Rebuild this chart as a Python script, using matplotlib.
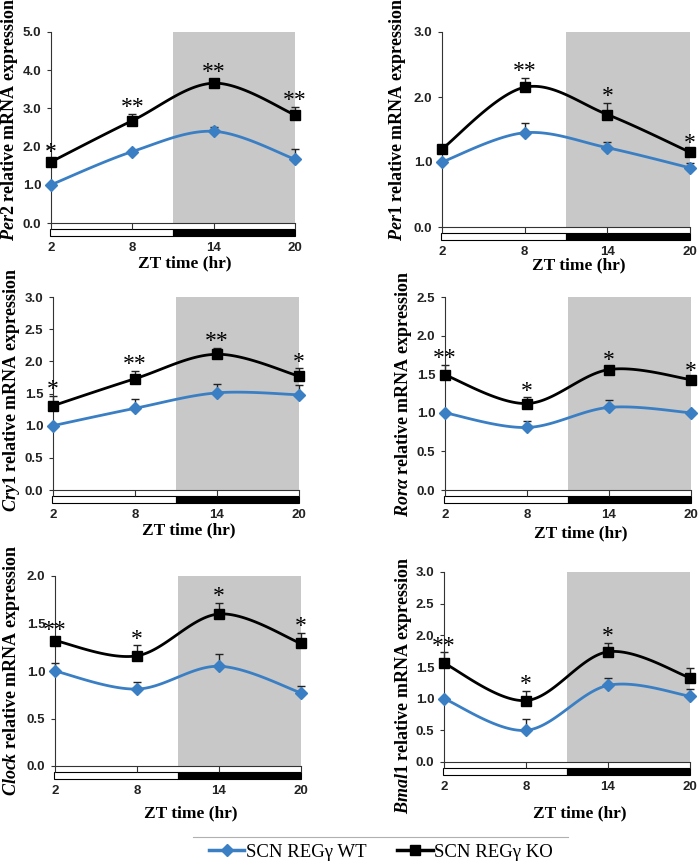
import numpy as np
import matplotlib
matplotlib.use('Agg')
import matplotlib.pyplot as plt
from matplotlib.patches import Rectangle
from matplotlib.lines import Line2D
import matplotlib.transforms as mtransforms

plt.rcParams['mathtext.fontset'] = 'custom'
plt.rcParams['mathtext.it'] = 'Liberation Serif:italic:bold'
plt.rcParams['mathtext.rm'] = 'Liberation Serif:bold'

zt = [2, 8, 14, 20]
zt_labels = ['2', '8', '14', '20']

genes = ['Per2', 'Per1', 'Cry1', 'Rorα', 'Clock', 'Bmal1']
ymax = [5.0, 3.0, 3.0, 2.5, 2.0, 3.0]
ystep = [1.0, 1.0, 0.5, 0.5, 0.5, 0.5]

per2_wt = [1.00, 1.87, 2.40, 1.67]
per2_wt_err = [0.00, 0.05, 0.12, 0.28]
per2_ko = [1.60, 2.68, 3.66, 2.83]
per2_ko_err = [0.08, 0.17, 0.12, 0.20]
per2_stars = ['*', '**', '**', '**']

per1_wt = [1.00, 1.45, 1.22, 0.91]
per1_wt_err = [0.00, 0.15, 0.09, 0.07]
per1_ko = [1.20, 2.15, 1.73, 1.15]
per1_ko_err = [0.02, 0.15, 0.18, 0.03]
per1_stars = ['', '**', '*', '*']

cry1_wt = [1.00, 1.27, 1.51, 1.48]
cry1_wt_err = [0.00, 0.15, 0.14, 0.15]
cry1_ko = [1.31, 1.73, 2.11, 1.77]
cry1_ko_err = [0.15, 0.12, 0.10, 0.12]
cry1_stars = ['*', '**', '**', '*']

rora_wt = [1.00, 0.81, 1.07, 1.00]
rora_wt_err = [0.00, 0.08, 0.09, 0.02]
rora_ko = [1.49, 1.12, 1.56, 1.43]
rora_ko_err = [0.13, 0.08, 0.04, 0.02]
rora_stars = ['**', '*', '*', '*']

clock_wt = [1.00, 0.81, 1.05, 0.77]
clock_wt_err = [0.08, 0.07, 0.13, 0.07]
clock_ko = [1.32, 1.16, 1.60, 1.29]
clock_ko_err = [0.04, 0.11, 0.12, 0.11]
clock_stars = ['**', '*', '*', '*']

bmal1_wt = [1.00, 0.50, 1.21, 1.04]
bmal1_wt_err = [0.00, 0.18, 0.11, 0.12]
bmal1_ko = [1.56, 0.97, 1.74, 1.33]
bmal1_ko_err = [0.17, 0.15, 0.14, 0.16]
bmal1_stars = ['**', '*', '*', '']

wt_all = [per2_wt, per1_wt, cry1_wt, rora_wt, clock_wt, bmal1_wt]
wt_err_all = [per2_wt_err, per1_wt_err, cry1_wt_err, rora_wt_err, clock_wt_err, bmal1_wt_err]
ko_all = [per2_ko, per1_ko, cry1_ko, rora_ko, clock_ko, bmal1_ko]
ko_err_all = [per2_ko_err, per1_ko_err, cry1_ko_err, rora_ko_err, clock_ko_err, bmal1_ko_err]
stars_all = [per2_stars, per1_stars, cry1_stars, rora_stars, clock_stars, bmal1_stars]

dark_start = 11

blue = '#3a7fc4'

# axes boxes in pixels: left, right, top, bottom
boxes = [(51, 295, 32, 223), (442, 690, 32, 227),
         (53, 299, 297, 490), (445, 691, 297, 490),
         (55, 301, 576, 766), (444, 690, 572, 762)]
xlab_off = [40, 38, 40, 43, 47, 51]
# y label centres in pixels (x, y)
ylab_pos = [(10, 119), (398, 119), (12, 390), (403, 394), (12, 670), (403, 685)]

W, H = 699, 867


def smooth(x, y, n=40):
    # excel-like smoothed line through the points
    pts = np.column_stack([x, y]).astype(float)
    P = np.vstack([pts[0], pts, pts[-1]])
    t = np.linspace(0, 1, n)[:, None]
    out = []
    for i in range(1, len(P) - 2):
        p0, p1, p2, p3 = P[i - 1], P[i], P[i + 1], P[i + 2]
        c1 = p1 + (p2 - p0) / 6
        c2 = p2 - (p3 - p1) / 6
        out.append((1 - t) ** 3 * p1 + 3 * (1 - t) ** 2 * t * c1 + 3 * (1 - t) * t ** 2 * c2 + t ** 3 * p2)
    return np.vstack(out)


fig = plt.figure(figsize=(W / 100, H / 100), dpi=100)

for i in range(6):
    l, r, t, b = boxes[i]
    ax = fig.add_axes([l / W, 1 - b / H, (r - l) / W, (b - t) / H])
    ax.set_xlim(2, 20)
    ax.set_ylim(0, ymax[i])

    ax.axvspan(dark_start, 20, color='#c8c8c8', lw=0, zorder=0)

    for vals, errs, col, mk, ms in [(wt_all[i], wt_err_all[i], blue, 'D', 6),
                                     (ko_all[i], ko_err_all[i], 'black', 's', 7)]:
        s = smooth(zt, vals)
        ax.plot(s[:, 0], s[:, 1], color=col, lw=2, zorder=3, clip_on=False)
        ax.errorbar(zt, vals, yerr=[np.zeros(4), errs], fmt='none', ecolor='#222222',
                    elinewidth=1, capsize=3, capthick=1, zorder=2, clip_on=False)
        ax.plot(zt, vals, ls='none', marker=mk, ms=ms, color=col, zorder=4, clip_on=False)

    for x, v, e, st in zip(zt, ko_all[i], ko_err_all[i], stars_all[i]):
        if st:
            ax.annotate(st, (x, v + e), xytext=(0, -3), textcoords='offset points',
                        ha='center', va='bottom', fontsize=17, family='Liberation Serif',
                        annotation_clip=False)

    # light/dark bar under the axis
    tr = mtransforms.blended_transform_factory(ax.transData, ax.transAxes)
    bh = 7 / (b - t)
    by = -13 / (b - t)
    ax.add_patch(Rectangle((1.9, by), dark_start - 1.9, bh, transform=tr, facecolor='white',
                           edgecolor='black', lw=0.8, clip_on=False))
    ax.add_patch(Rectangle((dark_start, by), 20 - dark_start, bh, transform=tr, facecolor='black',
                           edgecolor='black', lw=0.8, clip_on=False))

    ax.spines['top'].set_visible(False)
    ax.spines['right'].set_visible(False)
    ax.spines['left'].set_color('#333333')
    ax.spines['bottom'].set_color('#333333')

    ax.set_xticks(zt)
    ax.set_xticklabels(zt_labels)
    yt = np.arange(0, ymax[i] + 0.001, ystep[i])
    ax.set_yticks(yt)
    ax.set_yticklabels(['%.1f' % v for v in yt])
    ax.tick_params(axis='x', length=4.5, width=0.8, pad=9, color='#333333')
    ax.tick_params(axis='y', length=3, width=0.8, pad=4, color='#333333')
    for lab in ax.get_xticklabels() + ax.get_yticklabels():
        lab.set_fontfamily('Liberation Sans')
        lab.set_fontweight('bold')
        lab.set_fontsize(9.5)
        lab.set_color('#222222')

    ax.set_xlabel('ZT time (hr)', fontsize=12.5, fontweight='bold', family='Liberation Serif')
    ax.xaxis.set_label_coords(0.55, -xlab_off[i] / (b - t), transform=ax.transAxes)
    ax.xaxis.label.set_va('center')
    ax.set_ylabel(r'$\mathit{' + genes[i] + r'}$ relative mRNA expression', fontsize=13,
                  fontweight='bold', family='Liberation Serif')
    lx, ly = ylab_pos[i]
    ax.yaxis.set_label_coords(lx / W, 1 - ly / H, transform=fig.transFigure)
    ax.yaxis.label.set_va('center')

# legend
fig.add_artist(Line2D([193 / W, 568 / W], [1 - 837 / H] * 2, color='#b0b0b0', lw=0.8))
handles = [Line2D([], [], color=blue, lw=2.5, marker='D', ms=6),
           Line2D([], [], color='black', lw=2.5, marker='s', ms=7)]
fig.legend(handles, ['SCN REGγ WT', 'SCN REGγ KO'], loc='center', ncol=2,
           bbox_to_anchor=(381 / W, 1 - 852 / H), frameon=False, handlelength=1.9,
           handletextpad=0.1, columnspacing=1.6, prop={'family': 'Liberation Serif', 'size': 13.5})

fig.savefig('out.png', dpi=100)
